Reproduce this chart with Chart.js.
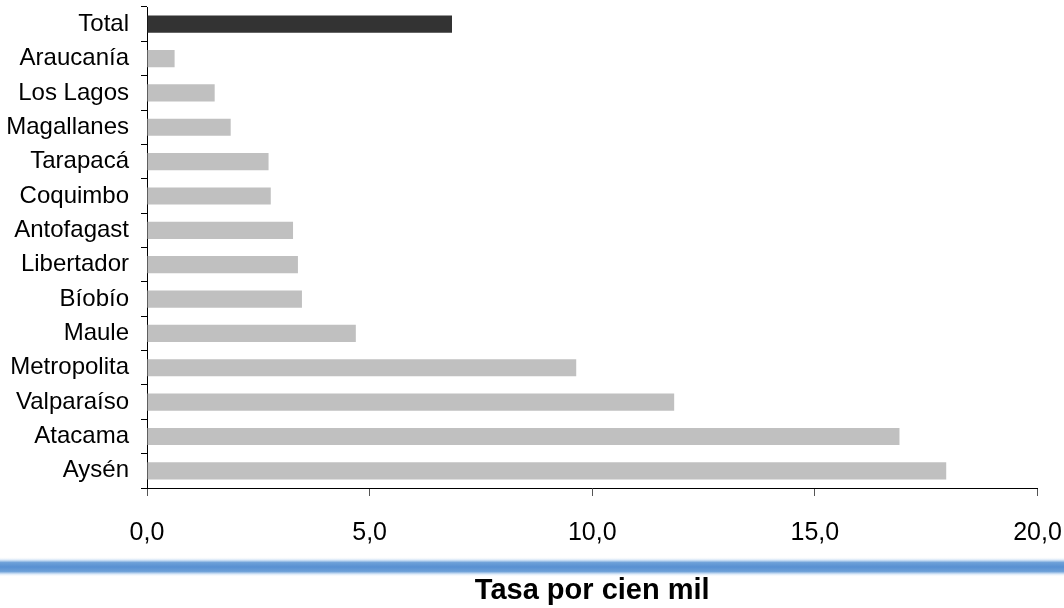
<!DOCTYPE html>
<html>
<head>
<meta charset="utf-8">
<script src="https://cdn.jsdelivr.net/npm/chart.js@4.4.1/dist/chart.umd.min.js"></script>
<style>
  html, body { margin: 0; padding: 0; background: #fff; }
  #wrap { width: 1064px; height: 608px; position: relative; }
</style>
</head>
<body>
<div id="wrap"><canvas id="tasaChart"></canvas></div>
<script>
const regiones = ['Total', 'Araucanía', 'Los Lagos', 'Magallanes', 'Tarapacá', 'Coquimbo',
  'Antofagast', 'Libertador', 'Bíobío', 'Maule', 'Metropolita', 'Valparaíso', 'Atacama', 'Aysén'];
const tasas = [6.85, 0.62, 1.52, 1.88, 2.73, 2.78, 3.28, 3.39, 3.48, 4.69, 9.64, 11.84, 16.9, 17.95];
const ejeX = [0, 5, 10, 15, 20];

const fuente = "'Liberation Sans Narrow', 'Arial Narrow', 'Liberation Sans', sans-serif";

// colores: barra del total oscura, el resto gris
const colores = regiones.map(r => r === 'Total' ? '#333333' : '#c0c0c0');

// linea azul decorativa sobre el titulo
const lineaAzul = {
  id: 'lineaAzul',
  afterDraw(chart) {
    const c = chart.ctx;
    const g = c.createLinearGradient(0, 557, 0, 577);
    g.addColorStop(0, 'rgba(255,255,255,0)');
    g.addColorStop(0.15, '#d6e6f7');
    g.addColorStop(0.28, '#6da0d8');
    g.addColorStop(0.5, '#5890d2');
    g.addColorStop(0.72, '#6da0d8');
    g.addColorStop(0.85, '#d6e6f7');
    g.addColorStop(1, 'rgba(255,255,255,0)');
    c.save();
    c.fillStyle = g;
    c.fillRect(0, 557, chart.width, 20);
    c.restore();
  }
};

new Chart(document.getElementById('tasaChart'), {
  type: 'bar',
  data: {
    labels: regiones,
    datasets: [{
      data: tasas,
      backgroundColor: colores,
      borderWidth: 0,
      categoryPercentage: 1,
      barPercentage: 0.5
    }]
  },
  options: {
    indexAxis: 'y',
    responsive: true,
    maintainAspectRatio: false,
    animation: false,
    layout: { padding: { top: 7, left: 0, right: 26.5, bottom: 0 } },
    scales: {
      y: {
        afterFit: s => { s.width = 147; s.paddingTop = 0; s.paddingBottom = 0; },
        border: { color: '#000', width: 1 },
        grid: { drawOnChartArea: false, tickLength: 6, color: '#000', offset: true },
        ticks: {
          color: '#000',
          padding: 12,
          font: { family: fuente, size: 24 }
        }
      },
      x: {
        min: 0,
        max: 20,
        afterFit: s => { s.height = 120; s.paddingLeft = 0; s.paddingRight = 0; },
        border: { color: '#000', width: 1 },
        grid: { drawOnChartArea: false, tickLength: 8, color: '#555' },
        afterBuildTicks: s => { s.ticks = ejeX.map(v => ({ value: v })); },
        ticks: {
          color: '#000',
          padding: 22,
          font: { family: fuente, size: 25 },
          callback: v => v.toFixed(1).replace('.', ',')
        },
        title: {
          display: true,
          text: 'Tasa por cien mil',
          color: '#000',
          padding: { top: 0, bottom: 0 },
          font: { family: fuente, size: 29, weight: 'bold' }
        }
      }
    },
    plugins: {
      legend: { display: false },
      tooltip: { enabled: false }
    }
  },
  plugins: [lineaAzul]
});
</script>
</body>
</html>
